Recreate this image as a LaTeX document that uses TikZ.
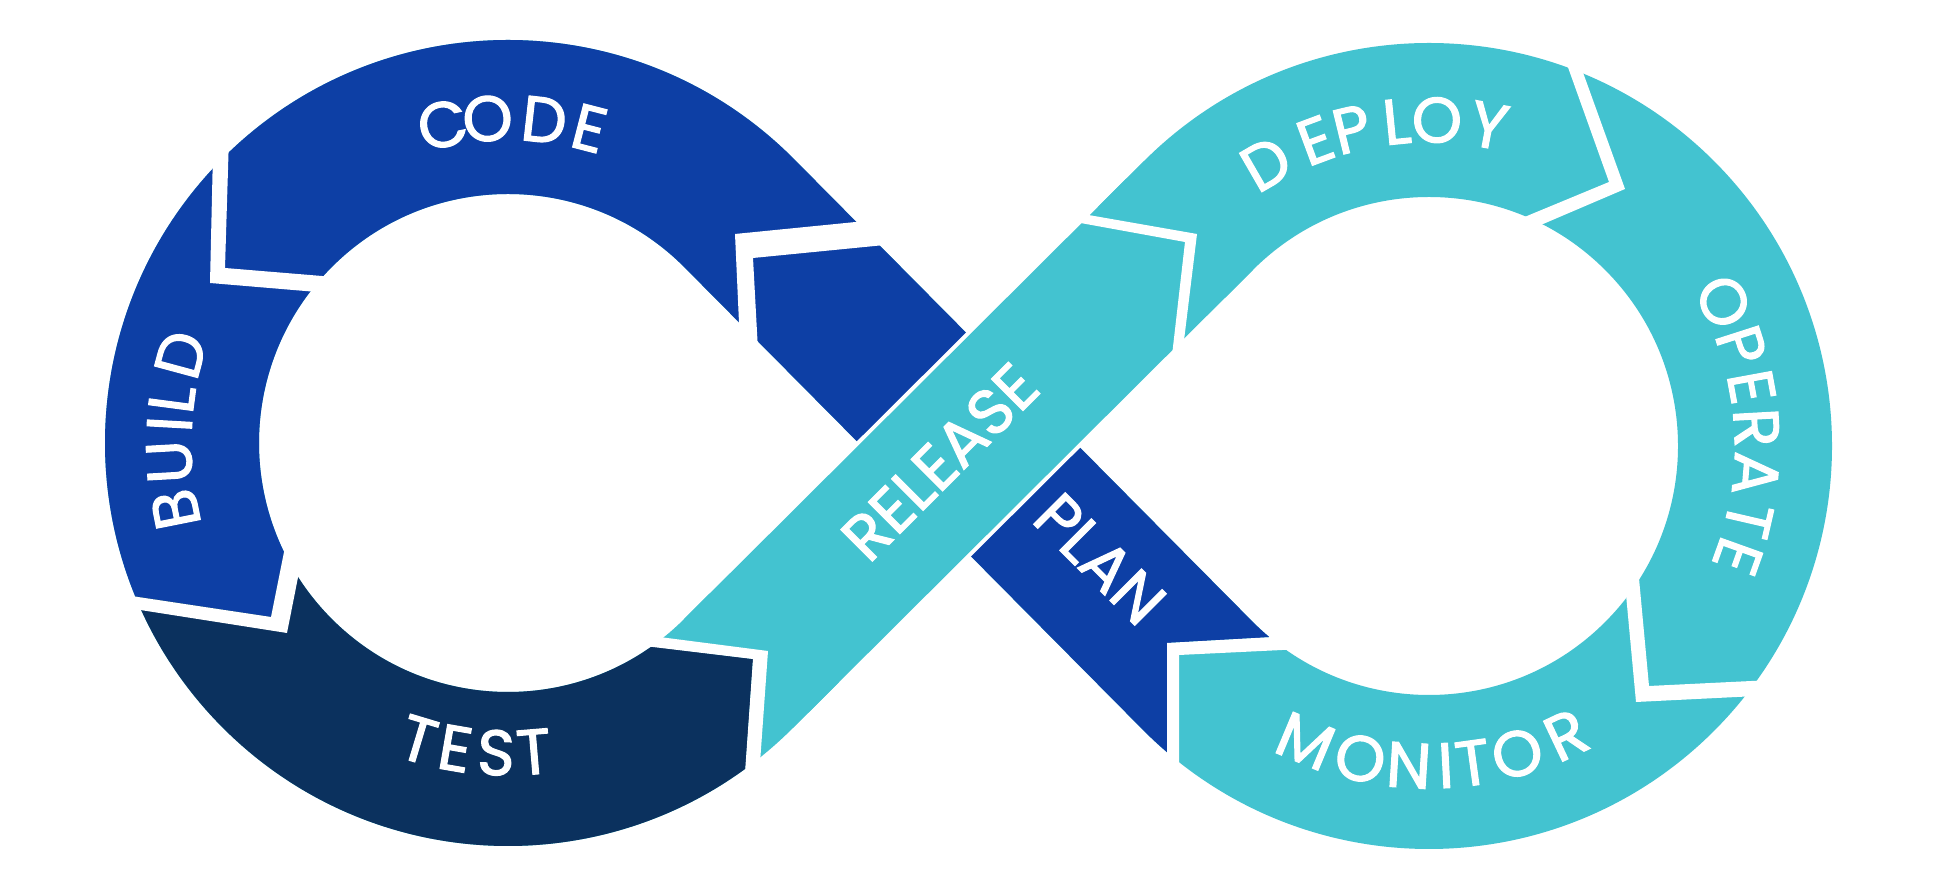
\documentclass[tikz,border=0pt]{standalone}
\usepackage{fontspec}
\setmainfont{Poppins}
\newfontfamily\opsfont{Poppins}[FakeBold=1.8]
\usepackage{tikz}
\usetikzlibrary{calc}

\definecolor{opsblue}{RGB}{13,63,165}
\definecolor{opsnavy}{RGB}{11,49,94}
\definecolor{opscyan}{RGB}{67,195,208}

\begin{document}
\begin{tikzpicture}[
  x=1pt, y=1pt,
  band/.style={line width=154pt},
  gap/.style={fill=white},
  lbl/.style={text=white, inner sep=0pt, font=\opsfont\fontsize{64}{64}\selectfont},
  infinity/.style={insert path={(T1) arc[start angle=45, end angle=315, radius=326] -- (T4) arc[start angle=135, end angle=-135, radius=326] -- cycle}}
]
\useasboundingbox (0,0) rectangle (1935,888);
\fill[white] (0,0) rectangle (1935,888);

\coordinate (C1) at (508,445);
\coordinate (C2) at (1429,442);
\coordinate (T1) at ($(C1)+(45:326)$);
\coordinate (T3) at ($(C1)+(-45:326)$);
\coordinate (T4) at ($(C2)+(135:326)$);
\coordinate (T2) at ($(C2)+(-135:326)$);

% whole loop, cyan
\draw[band, opscyan, infinity];

% plan, code, build
\begin{scope}
  \clip (-10,898) -- (-10,303) -- (60,303) -- (271,271) -- (292,376) -- (508,444) -- (700,583)
    -- (1167,108) -- (1167,245) -- (1310,253) -- (640,898) -- cycle;
  \draw[band, opsblue, infinity];
\end{scope}

% release goes over plan
\draw[white, line width=162pt] ($(T3)!0.1!(T4)$) -- ($(T3)!0.9!(T4)$);
\draw[band, opscyan] (T3) -- (T4);

% test
\begin{scope}
  \clip (-10,303) -- (60,303) -- (271,271) -- (292,376) -- (600,248) -- (648,242) -- (753,229)
    -- (742,68) -- (742,-12) -- (-10,-12) -- cycle;
  \draw[band, opsnavy, infinity];
\end{scope}

% white chevrons between the stages
\fill[gap] (876,668) -- (735,654) -- (740,543) -- (759,519) -- (753,630) -- (895,644) -- cycle;
\fill[gap] (229,751) -- (225,620) -- (346,610) -- (329,595) -- (210,605) -- (213,736) -- cycle;
\fill[gap] (118,294) -- (271,271) -- (288,356) -- (304,341) -- (287,255) -- (134,279) -- cycle;
\fill[gap] (628,244) -- (753,229) -- (744,101) -- (759,111) -- (768,237) -- (644,253) -- cycle;
\fill[gap] (1064,668) -- (1185,646) -- (1170,515) -- (1181,523) -- (1197,654) -- (1077,675) -- cycle;
\fill[gap] (1565,829) -- (1609,706) -- (1498,660) -- (1515,652) -- (1625,699) -- (1581,821) -- cycle;
\fill[gap] (1637,331) -- (1649,202) -- (1772,208) -- (1757,192) -- (1636,186) -- (1624,315) -- cycle;
\fill[gap] (1303,239) -- (1179,233) -- (1179,106) -- (1167,119) -- (1167,245) -- (1291,252) -- cycle;

% labels
\foreach \a/\ch [count=\i] in {101.6/C,93.6/O,83.6/D,75.5/E}
  \node[lbl, rotate=\a-90] (code-\i) at ($(C1)+(\a:325)$) {\ch};
\foreach \a/\ch [count=\i] in {191.3/B,183.2/U,176.8/I,172.5/L,164.9/D}
  \node[lbl, rotate=\a-90] (build-\i) at ($(C1)+(\a:339)$) {\ch};
\foreach \a/\ch [count=\i] in {253.2/T,260.2/E,267.8/S,274.8/T}
  \node[lbl, rotate=\a+90] (test-\i) at ($(C1)+(\a:310)$) {\ch};
\foreach \a/\ch [count=\i] in {120/D,110.4/E,103.7/P,95.7/L,88.6/O,79.4/Y}
  \node[lbl, rotate=\a-90] (deploy-\i) at ($(C2)+(\a:326)$) {\ch};
\foreach \a/\ch [count=\i] in {26.1/O,17.8/P,10.4/E,3.2/R,-4.9/A,-13/T,-19.7/E}
  \node[lbl, rotate=\a-90] (operate-\i) at ($(C2)+(\a:328)$) {\ch};
\foreach \a/\ch [count=\i] in {247.3/M,257.6/O,266.4/N,273/I,277.9/T,286/O,295.4/R}
  \node[lbl, rotate=\a+90] (monitor-\i) at ($(C2)+(\a:320)$) {\ch};
\node[lbl, rotate=45] (release) at (940,426) {RELEASE};
\node[lbl, rotate=-45] (plan) at (1100,329) {PLAN};
\end{tikzpicture}
\end{document}
